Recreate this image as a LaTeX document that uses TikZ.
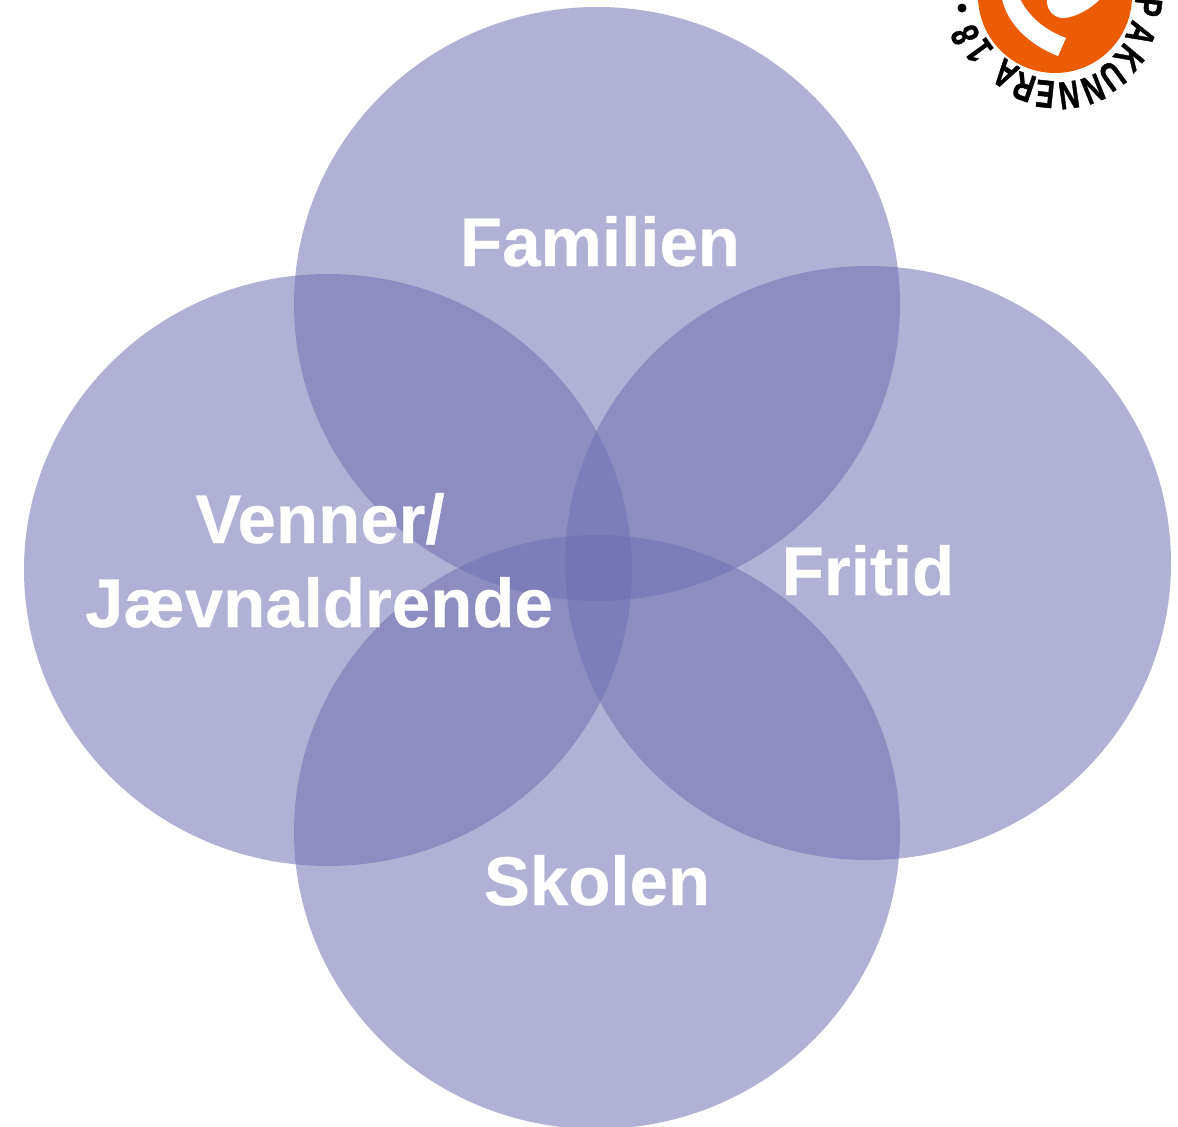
\documentclass[tikz,border=0pt]{standalone}
\usepackage{fontspec}
\setmainfont{Liberation Sans}
\newfontfamily\logofont[FakeBold=1.2]{Liberation Sans Bold}
\newfontfamily\lblfont[FakeBold=0.4]{Liberation Sans Bold}
\newcommand{\logoch}[1]{\scalebox{0.72}[1]{\fontsize{39}{39}\logofont #1}}
\begin{document}
\begin{tikzpicture}[x=1pt,y=-1pt,
  venn/.style={fill=vennblue,fill opacity=0.54},
  lbl/.style={text=white,font=\fontsize{69}{75}\lblfont,inner sep=0pt,anchor=base},
  logol/.style={text=black,inner sep=0pt}]
\definecolor{vennblue}{RGB}{111,111,177}
\definecolor{logoorange}{RGB}{236,92,4}
\path[use as bounding box] (0,0) rectangle (1178,1127);
\clip (0,0) rectangle (1178,1127);
\fill[venn] (597,304) ellipse [x radius=303,y radius=297];
\fill[venn] (328,570) ellipse [x radius=304,y radius=296];
\fill[venn] (868,563) ellipse [x radius=303,y radius=297];
\fill[venn] (597,832) ellipse [x radius=303,y radius=297];
\node[lbl] (familien) at (600,266) {Familien};
\node[lbl] (venner) at (320,543) {Venner/};
\node[lbl] (jaevn) at (319,627) {Jævnaldrende};
\node[lbl] (fritid) at (868,595) {Fritid};
\node[lbl] (skolen) at (597,905) {Skolen};
% logo
\fill[logoorange] (1055,-4) circle [radius=77];
\fill[white] (1002,-1) .. controls (1008,25) and (1030,45) .. (1058,56) -- (1066,38)
  .. controls (1045,30) and (1030,18) .. (1020,-1) -- cycle;
\fill[white] (1047,-1) .. controls (1046,10) and (1054,18) .. (1063,18)
  .. controls (1075,18) and (1092,8) .. (1100,-1) -- cycle;
\node[logol,rotate=-97] (lP) at (1148,7) {\logoch{P}};
\node[logol,rotate=-114] (lA) at (1141,34) {\logoch{A}};
\node[logol,rotate=-130] (lK) at (1129,58) {\logoch{K}};
\node[logol,rotate=-144] (lU) at (1112,76) {\logoch{U}};
\node[logol,rotate=-158] (lN) at (1093,89) {\logoch{N}};
\node[logol,rotate=-172] (lNb) at (1069,95) {\logoch{N}};
\node[logol,rotate=-186] (lE) at (1045,94) {\logoch{E}};
\node[logol,rotate=-199] (lR) at (1024,87) {\logoch{R}};
\node[logol,rotate=-213] (lAb) at (1005,74) {\logoch{A}};
\node[logol,rotate=-234] (lone) at (979,51) {\logoch{1}};
\node[logol,rotate=-247] (leight) at (965,35) {\logoch{8}};
\fill[black] (962,8) circle [radius=4.5];
\end{tikzpicture}
\end{document}
